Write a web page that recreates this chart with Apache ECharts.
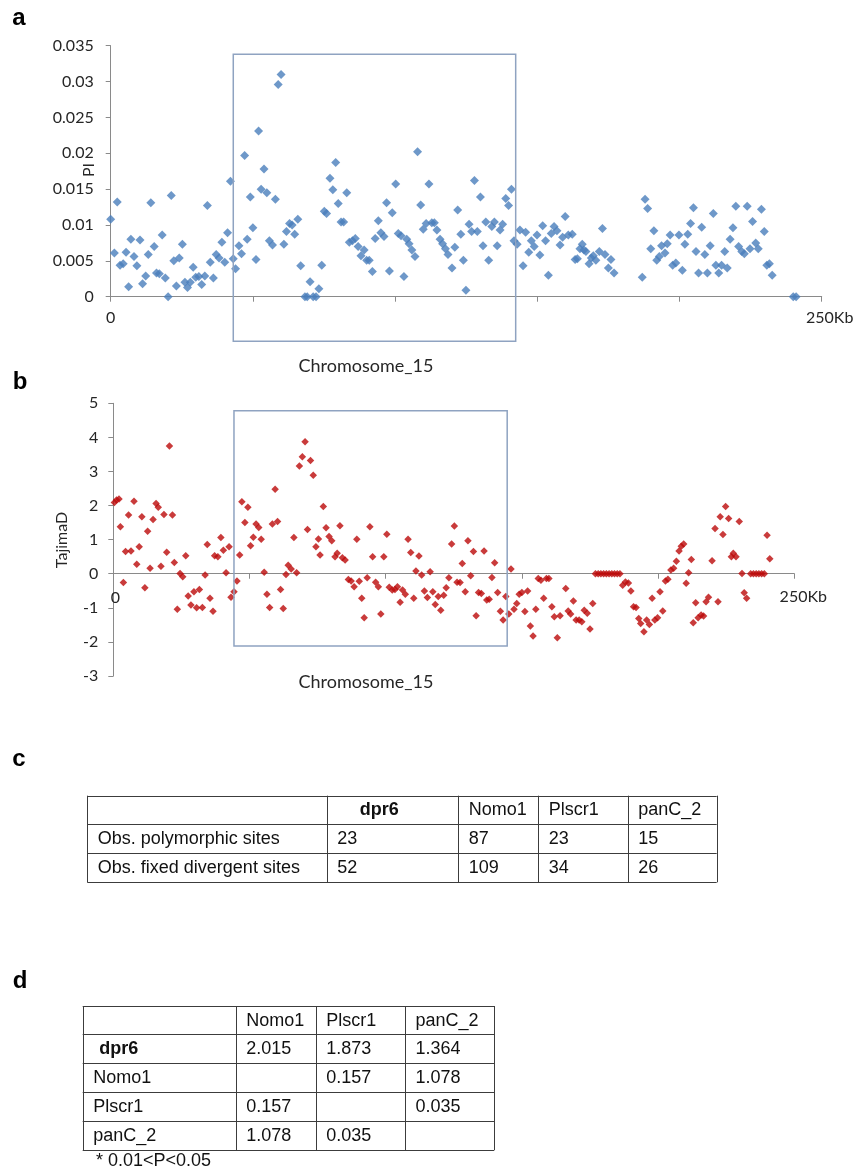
<!DOCTYPE html>
<html>
<head>
<meta charset="utf-8">
<script src="https://cdn.jsdelivr.net/npm/echarts@6/dist/echarts.min.js"></script>
<style>
  html, body { margin: 0; padding: 0; background: #fff; }
  #chart { width: 858px; height: 1170px; }
</style>
</head>
<body>
<div id="chart"></div>
<script>
// ---- Nucleotide diversity (PI) along chromosome 15, position in Kb ----
const piKb = [
  0, 1.3, 2.3, 3.3, 4.4, 5.4, 6.3, 7.1, 8.2, 9.2, 10.3, 11.2, 12.3, 13.2, 14.1, 15.3, 16.1, 17.1, 18.1, 19.2,
  20.2, 21.3, 22.2, 23.1, 24.1, 25.2, 26.1, 27.0, 28.0, 29.0, 29.9, 31.0, 32.0, 33.1, 34.0, 35.0, 36.1, 37.1, 38.1, 39.1,
  40.1, 41.1, 42.1, 43.1, 43.9, 45.1, 46.0, 47.1, 48.0, 49.1, 50.0, 51.1, 52.0, 52.9, 53.9, 54.9, 55.8, 56.9, 57.9, 58.9,
  59.9, 60.9, 61.8, 62.9, 63.8, 64.7, 65.8, 66.8, 68.3, 69.1, 70.1, 71.2, 72.2, 73.2, 74.2,
  75.1, 75.9, 77.1, 78.1, 79.1, 80.0, 81.0, 81.9, 83.0, 83.9, 85.0, 86.0, 87.0, 88.0, 89.1, 90.0, 90.9, 92.0, 93.0, 94.1,
  95.0, 96.1, 97.0, 98.0, 99.0, 100.2, 101.1, 102.1, 103.1, 104.1, 104.9, 105.9, 107.0, 107.9, 109.0, 109.9, 110.9, 111.9, 112.9, 113.8,
  114.7, 115.8, 116.7, 117.7, 118.6, 120.0, 121.0, 122.0, 123.1, 124.0, 124.9, 126.0, 126.9, 127.9, 128.9, 130.0, 130.9, 131.9, 132.9, 134.0,
  134.9, 135.9, 136.9, 137.8, 138.9, 139.9, 140.9, 141.8, 142.9, 143.9, 145.0, 145.9, 147.0, 147.9, 148.9, 149.9, 150.9, 151.9, 152.9, 153.9,
  154.9, 155.9, 156.9, 158.0, 158.9, 159.8, 160.9, 162.3, 163.3, 164.1, 165.0, 165.8, 166.4, 167.1, 168.2, 169.0, 169.7, 170.6, 171.8, 172.9,
  173.8, 175.0, 175.9, 177.0,
  186.9, 187.9, 188.8, 189.9, 191.0, 192.0, 192.9, 193.7, 194.9, 195.7, 196.7, 197.6, 198.7, 199.8, 201.0, 201.9, 202.9, 203.9, 204.9, 205.8,
  206.7, 207.8, 208.9, 209.8, 210.8, 211.9, 212.8, 213.8, 214.8, 215.9, 216.8, 217.8, 218.8, 219.8, 220.8, 221.9, 222.8, 223.8, 224.8, 225.7,
  226.8, 227.7, 228.8, 229.8, 230.7, 231.6, 232.6, 240.0, 241.0
];
const piValue = [
  0.0108, 0.0061, 0.0132, 0.0044, 0.0046, 0.0062, 0.0014, 0.0080, 0.0056, 0.0043, 0.0079, 0.0018, 0.0029, 0.0059, 0.0131, 0.0070, 0.0033, 0.0032, 0.0086, 0.0026,
  0.0000, 0.0141, 0.0050, 0.0015, 0.0054, 0.0073, 0.0020, 0.0013, 0.0020, 0.0041, 0.0027, 0.0028, 0.0017, 0.0029, 0.0127, 0.0048, 0.0026, 0.0059, 0.0054, 0.0076,
  0.0048, 0.0089, 0.0161, 0.0053, 0.0039, 0.0071, 0.0060, 0.0197, 0.0080, 0.0139, 0.0096, 0.0052, 0.0231, 0.0150, 0.0178, 0.0145, 0.0078, 0.0072, 0.0136, 0.0296,
  0.0310, 0.0073, 0.0091, 0.0102, 0.0100, 0.0087, 0.0108, 0.0043, 0.0000, 0.0000, 0.0021, 0.0000, 0.0000, 0.0011, 0.0044,
  0.0119, 0.0116, 0.0165, 0.0149, 0.0187, 0.0130, 0.0104, 0.0104, 0.0145, 0.0076, 0.0078, 0.0081, 0.0070, 0.0057, 0.0065, 0.0051, 0.0051, 0.0035, 0.0081, 0.0106,
  0.0089, 0.0084, 0.0131, 0.0036, 0.0117, 0.0157, 0.0088, 0.0085, 0.0028, 0.0080, 0.0074, 0.0065, 0.0056, 0.0202, 0.0128, 0.0094, 0.0102, 0.0157, 0.0103, 0.0103,
  0.0093, 0.0080, 0.0074, 0.0067, 0.0059, 0.0040, 0.0069, 0.0121, 0.0087, 0.0051, 0.0009, 0.0101, 0.0091, 0.0162, 0.0091, 0.0139, 0.0071, 0.0104, 0.0051, 0.0098,
  0.0104, 0.0071, 0.0093, 0.0101, 0.0137, 0.0127, 0.0150, 0.0078, 0.0073, 0.0093, 0.0043, 0.0090, 0.0062, 0.0078, 0.0070, 0.0086, 0.0058, 0.0099, 0.0078, 0.0030,
  0.0088, 0.0098, 0.0092, 0.0072, 0.0083, 0.0112, 0.0086, 0.0087, 0.0052, 0.0053, 0.0067, 0.0073, 0.0065, 0.0063, 0.0046, 0.0054, 0.0057, 0.0051, 0.0063, 0.0095,
  0.0059, 0.0040, 0.0052, 0.0033,
  0.0027, 0.0136, 0.0123, 0.0067, 0.0092, 0.0051, 0.0056, 0.0071, 0.0061, 0.0074, 0.0086, 0.0044, 0.0047, 0.0086, 0.0037, 0.0073, 0.0087, 0.0102, 0.0124, 0.0063,
  0.0033, 0.0097, 0.0059, 0.0033, 0.0071, 0.0116, 0.0044, 0.0033, 0.0044, 0.0063, 0.0040, 0.0080, 0.0096, 0.0126, 0.0070, 0.0063, 0.0060, 0.0126, 0.0067, 0.0105,
  0.0075, 0.0067, 0.0122, 0.0091, 0.0044, 0.0046, 0.0030, 0.0000, 0.0000
];

// ---- Tajima's D along chromosome 15, position in Kb ----
const tajKb = [
  0.4, 1.2, 2.1, 2.6, 3.7, 4.5, 5.6, 6.5, 7.6, 8.6, 9.5, 10.5, 11.6, 12.6, 13.5, 14.6, 15.7, 16.5, 17.5, 18.6,
  19.6, 20.6, 21.7, 22.4, 23.5, 24.5, 25.5, 26.6, 27.5, 28.5, 29.6, 30.6, 31.6, 32.7, 33.7, 34.5, 35.5, 36.6, 37.2, 38.4,
  39.5, 40.4, 41.4, 42.5, 43.2, 44.3, 45.4, 46.4, 47.2, 48.3, 49.4, 50.4, 51.4, 52.4, 53.4, 54.3, 55.4, 56.4, 57.4, 58.4,
  59.4, 60.3, 61.4, 62.4, 63.4, 64.2, 65.3, 66.3, 67.3, 68.3, 69.4, 70.4, 71.3, 72.4, 73.4, 74.4, 75.3, 75.9,
  77.1, 78.1, 79.2, 80.2, 81.4, 82.2, 83.2, 84.1, 85.1, 86.3, 87.3, 88.4, 89.4, 90.3, 91.2, 92.1, 93.2, 94.2, 95.2, 96.3,
  97.3, 98.2, 99.3, 100.4, 101.3, 102.4, 103.4, 104.3, 105.3, 106.2, 107.2, 108.2, 109.2, 110.3, 111.1, 112.2, 113.2, 114.2, 115.3, 116.3,
  117.3, 118.2, 119.3, 120.2, 121.3, 122.2, 123.2, 124.2, 125.2, 126.2, 127.3, 128.1, 129.2, 130.2, 131.2, 132.2, 133.2, 134.1, 135.1, 136.1,
  137.1, 138.0, 139.0, 140.0, 141.1, 142.1, 143.1, 144.1, 145.2, 146.0, 147.1, 148.1, 149.0, 150.0, 151.1, 152.1, 153.1, 154.1, 155.1, 156.0,
  157.0, 158.0, 159.0, 159.9, 161.0, 161.9, 163.0, 164.0, 166.1, 167.0,
  167.9, 168.9, 169.9, 171.0, 172.0, 172.9, 174.0, 175.0, 176.0,
  177, 178, 179, 180, 181, 182, 183, 184, 185, 186,
  187.0, 188.0, 189.1, 190.0, 191.0, 191.9, 192.9, 193.6, 194.8, 195.8, 196.8, 197.8, 198.8, 199.8, 200.7, 201.7, 202.7, 203.6, 204.7, 205.7,
  206.7, 207.7, 208.5, 209.4, 210.3, 211.2, 212.2, 212.9, 213.8, 214.7, 215.8, 216.7, 217.6, 218.5, 219.8, 220.9, 222.0, 222.8, 223.8, 224.8,
  225.9, 226.9, 227.6, 228.6, 229.8, 230.8, 231.6, 232.5,
  234, 235, 236, 237, 238, 239,
  240.0, 241.0
];
const tajValue = [
  2.09, 2.16, 2.19, 1.38, -0.26, 0.65, 1.72, 0.67, 2.13, 0.28, 0.79, 1.67, -0.41, 1.25, 0.16, 1.59, 2.06, 1.95, 0.22, 1.74,
  0.63, 3.75, 1.72, 0.33, -1.04, 0.01, -0.09, 0.53, -0.65, -0.92, -0.53, -1.00, -0.46, -0.99, -0.04, 0.86, -0.72, -1.10, 0.53, 0.50,
  1.06, 0.69, 0.03, 0.79, -0.69, -0.53, -0.21, 0.55, 2.11, 1.50, 1.95, 0.82, 1.07, 1.46, 1.36, 1.01, 0.04, -0.60, -0.99, 1.46,
  2.48, 1.53, -0.46, -1.02, -0.02, 0.25, 0.14, 1.06, 0.03, 3.16, 3.43, 3.87, 1.30, 3.32, 2.89, 0.79, 1.02, 0.55,
  1.97, 1.35, 1.09, 0.97, 0.50, 0.60, 1.41, 0.47, 0.40, -0.17, -0.21, -0.38, 1.01, -0.22, -0.72, -1.29, -0.12, 1.38, 0.50, -0.25,
  -0.38, -1.18, 0.50, 1.16, -0.40, -0.48, -0.46, -0.38, -0.84, -0.48, -0.60, 1.01, 0.62, -0.72, 0.08, 0.52, -0.04, -0.51, -0.70, 0.06,
  -0.53, -0.90, -0.67, -1.07, -0.63, -0.41, -0.12, 0.87, 1.40, -0.25, -0.26, 0.30, -0.53, 0.97, -0.06, 0.65, -1.23, -0.55, -0.58, 0.67,
  -0.77, -0.75, -0.11, 0.32, -0.55, -1.10, -1.36, -0.67, -1.18, 0.14, -1.04, -0.87, -0.60, -0.55, -1.11, -0.51, -1.53, -1.83, -1.04, -0.14,
  -0.19, -0.72, -0.14, -0.14, -0.97, -1.26, -1.88, -1.23, -0.43, -1.09,
  -1.18, -0.80, -1.36, -1.36, -1.41, -1.07, -1.16, -1.62, -0.87,
  0, 0, 0, 0, 0, 0, 0, 0, 0, 0,
  -0.34, -0.24, -0.27, -0.51, -0.97, -0.99, -1.31, -1.46, -1.70, -1.36, -1.49, -0.72, -1.36, -1.29, -0.53, -1.09, -0.21, -0.16, 0.11, 0.16,
  0.37, 0.67, 0.81, 0.87, -0.28, 0.03, 0.42, -1.44, -0.85, -1.29, -1.21, -1.24, -0.82, -0.69, 0.38, 1.33, -0.82, 1.67, 1.15, 1.97,
  1.62, 0.50, 0.60, 0.50, 1.53, 0.01, -0.56, -0.72,
  0, 0, 0, 0, 0, 0,
  1.13, 0.44
];

// Highlighted windows (data space: Kb range, value range)
const boxPiKb = [43.1, 142.4];
const boxPiValue = [-0.0062, 0.0338];
const boxTajKb = [44.3, 144.6];
const boxTajValue = [-2.12, 4.78];

// ---- Table c ----
const tableCHeader = ['', 'dpr6', 'Nomo1', 'Plscr1', 'panC_2'];
const tableCRowLabels = ['Obs. polymorphic sites', 'Obs. fixed divergent sites'];
const tableCValues = [
  ['23', '87', '23', '15'],
  ['52', '109', '34', '26']
];

// ---- Table d ----
const tableDHeader = ['', 'Nomo1', 'Plscr1', 'panC_2'];
const tableDRowLabels = ['dpr6', 'Nomo1', 'Plscr1', 'panC_2'];
const tableDValues = [
  ['2.015', '1.873', '1.364'],
  ['', '0.157', '1.078'],
  ['0.157', '', '0.035'],
  ['1.078', '0.035', '']
];
const tableDNote = '* 0.01<P<0.05';

// ---------------------------------------------------------------------
const AXIS_FONT = 'Lato, "Open Sans", sans-serif';
const TABLE_FONT = '"Liberation Sans", Arial, sans-serif';
const axisGray = '#8a8a8a';
const textDark = '#262626';

const zip = (xs, ys) => xs.map((x, i) => [x, ys[i]]);

const chart = echarts.init(document.getElementById('chart'), null, { renderer: 'canvas', width: 858, height: 1170 });

const commonAxisLine = { show: true, onZero: true, lineStyle: { color: axisGray, width: 1 } };
const commonTick = { show: true, inside: false, length: 5, lineStyle: { color: axisGray } };

chart.setOption({
  animation: false,
  backgroundColor: '#ffffff',
  grid: [
    { left: 110.7, top: 45.7, width: 711, height: 251, containLabel: false },
    { left: 113.3, top: 403.3, width: 681, height: 272.7, containLabel: false }
  ],
  xAxis: [
    { gridIndex: 0, type: 'value', min: 0, max: 250, interval: 50,
      axisLine: commonAxisLine, axisTick: commonTick, axisLabel: { show: false }, splitLine: { show: false } },
    { gridIndex: 1, type: 'value', min: 0, max: 250, interval: 50,
      axisLine: commonAxisLine, axisTick: commonTick, axisLabel: { show: false }, splitLine: { show: false } }
  ],
  yAxis: [
    { gridIndex: 0, type: 'value', min: 0, max: 0.035, interval: 0.005,
      axisLine: { show: true, lineStyle: { color: axisGray } }, axisTick: commonTick, splitLine: { show: false },
      axisLabel: { margin: 17, color: textDark, fontFamily: AXIS_FONT, fontSize: 16,
        formatter: v => (v === 0 ? '0' : String(+v.toFixed(3))) } },
    { gridIndex: 1, type: 'value', min: -3, max: 5, interval: 1,
      axisLine: { show: true, lineStyle: { color: axisGray } }, axisTick: commonTick, splitLine: { show: false },
      axisLabel: { margin: 15, color: textDark, fontFamily: AXIS_FONT, fontSize: 16 } }
  ],
  series: [
    { type: 'scatter', xAxisIndex: 0, yAxisIndex: 0, data: zip(piKb, piValue), clip: false,
      symbol: 'diamond', symbolSize: 9, itemStyle: { color: '#4a7ebb' } },
    { type: 'scatter', xAxisIndex: 1, yAxisIndex: 1, data: zip(tajKb, tajValue), clip: false,
      symbol: 'diamond', symbolSize: 7.5, itemStyle: { color: '#bb0a0a' } }
  ]
});

// ---- overlay: boxes, axis texts, panel letters and tables ----
function txt(text, x, y, opts) {
  const o = opts || {};
  return {
    type: 'text', x: x, y: y, rotation: o.rotation || 0, z: 10,
    style: {
      text: text, x: 0, y: 0,
      fill: o.fill || textDark,
      font: o.font || ('16px ' + AXIS_FONT),
      align: o.align || 'center', textAlign: o.align || 'center',
      verticalAlign: 'middle', textVerticalAlign: 'middle'
    }
  };
}

function boxFor(seriesIndex, kbRange, valRange) {
  const p1 = chart.convertToPixel({ seriesIndex: seriesIndex }, [kbRange[0], valRange[1]]);
  const p2 = chart.convertToPixel({ seriesIndex: seriesIndex }, [kbRange[1], valRange[0]]);
  return {
    type: 'rect', z: 5,
    shape: { x: p1[0], y: p1[1], width: p2[0] - p1[0], height: p2[1] - p1[1] },
    style: { fill: 'none', stroke: '#8fa3c1', lineWidth: 1.5 }
  };
}

function tableElements(spec) {
  const els = [];
  const xs = [spec.x];
  spec.colW.forEach(w => xs.push(xs[xs.length - 1] + w));
  const ys = [spec.y];
  spec.rowH.forEach(h => ys.push(ys[ys.length - 1] + h));
  const crisp = v => Math.round(v) + 0.5;
  ys.forEach(y => els.push({ type: 'line', z: 6,
    shape: { x1: xs[0], y1: crisp(y), x2: xs[xs.length - 1], y2: crisp(y) },
    style: { stroke: '#3c3c3c', lineWidth: 1 } }));
  xs.forEach(x => els.push({ type: 'line', z: 6,
    shape: { x1: crisp(x), y1: ys[0], x2: crisp(x), y2: ys[ys.length - 1] },
    style: { stroke: '#3c3c3c', lineWidth: 1 } }));
  spec.cells.forEach((row, r) => {
    row.forEach((cell, c) => {
      if (!cell) return;
      const bold = spec.bold && spec.bold(r, c);
      const pad = (spec.padFor && spec.padFor(r, c)) || spec.pad;
      els.push(txt(cell, xs[c] + pad, (ys[r] + ys[r + 1]) / 2 + 0.5, {
        align: 'left', fill: '#111',
        font: (bold ? 'bold ' : '') + spec.fontSize + 'px ' + TABLE_FONT
      }));
    });
  });
  return els;
}

const px0 = chart.convertToPixel({ seriesIndex: 0 }, [0, 0]);
const px250 = chart.convertToPixel({ seriesIndex: 0 }, [250, 0]);
const pb0 = chart.convertToPixel({ seriesIndex: 1 }, [0, 0]);
const pb250 = chart.convertToPixel({ seriesIndex: 1 }, [250, 0]);

const tableCCells = [tableCHeader].concat(tableCRowLabels.map((l, i) => [l].concat(tableCValues[i])));
const tableDCells = [tableDHeader].concat(tableDRowLabels.map((l, i) => [l].concat(tableDValues[i])));

const letterFont = 'bold 24px ' + TABLE_FONT;
const graphics = [
  boxFor(0, boxPiKb, boxPiValue),
  boxFor(1, boxTajKb, boxTajValue),
  // panel a texts
  txt('0', px0[0], px0[1] + 21, { font: '16px ' + AXIS_FONT }),
  txt('250Kb', px250[0] + 8, px250[1] + 21, { font: '16px ' + AXIS_FONT }),
  txt('Chromosome_15', 366, 366, { font: '18px ' + AXIS_FONT }),
  txt('PI', 89, 170, { font: '16px ' + AXIS_FONT, rotation: Math.PI / 2 }),
  // panel b texts
  txt('0', pb0[0] + 2, pb0[1] + 24, { font: '16px ' + AXIS_FONT }),
  txt('250Kb', pb250[0] + 9, pb250[1] + 23, { font: '16px ' + AXIS_FONT }),
  txt('Chromosome_15', 366, 682, { font: '18px ' + AXIS_FONT }),
  txt('TajimaD', 62, 540, { font: '16px ' + AXIS_FONT, rotation: Math.PI / 2 }),
  // panel letters
  txt('a', 19, 18, { font: letterFont, fill: '#000' }),
  txt('b', 20, 382, { font: letterFont, fill: '#000' }),
  txt('c', 19, 759, { font: letterFont, fill: '#000' }),
  txt('d', 20, 981, { font: letterFont, fill: '#000' }),
  // footnote of table d
  txt(tableDNote, 96, 1161, { align: 'left', fill: '#111', font: '18px ' + TABLE_FONT })
]
.concat(tableElements({
  x: 87.3, y: 795.7, colW: [239.4, 131.6, 80, 89.4, 89], rowH: [28.6, 29, 29],
  cells: tableCCells, pad: 10.5, fontSize: 18,
  bold: (r, c) => r === 0 && c === 1,
  padFor: (r, c) => (r === 0 && c === 1 ? 33 : 0)
}))
.concat(tableElements({
  x: 82.7, y: 1006, colW: [153, 80, 89.3, 89.3], rowH: [28.3, 29, 29, 28.7, 29],
  cells: tableDCells, pad: 10.5, fontSize: 18,
  bold: (r, c) => r === 1 && c === 0,
  padFor: (r, c) => (r === 1 && c === 0 ? 16.6 : 0)
}));

chart.setOption({ graphic: { elements: graphics } });
</script>
</body>
</html>
